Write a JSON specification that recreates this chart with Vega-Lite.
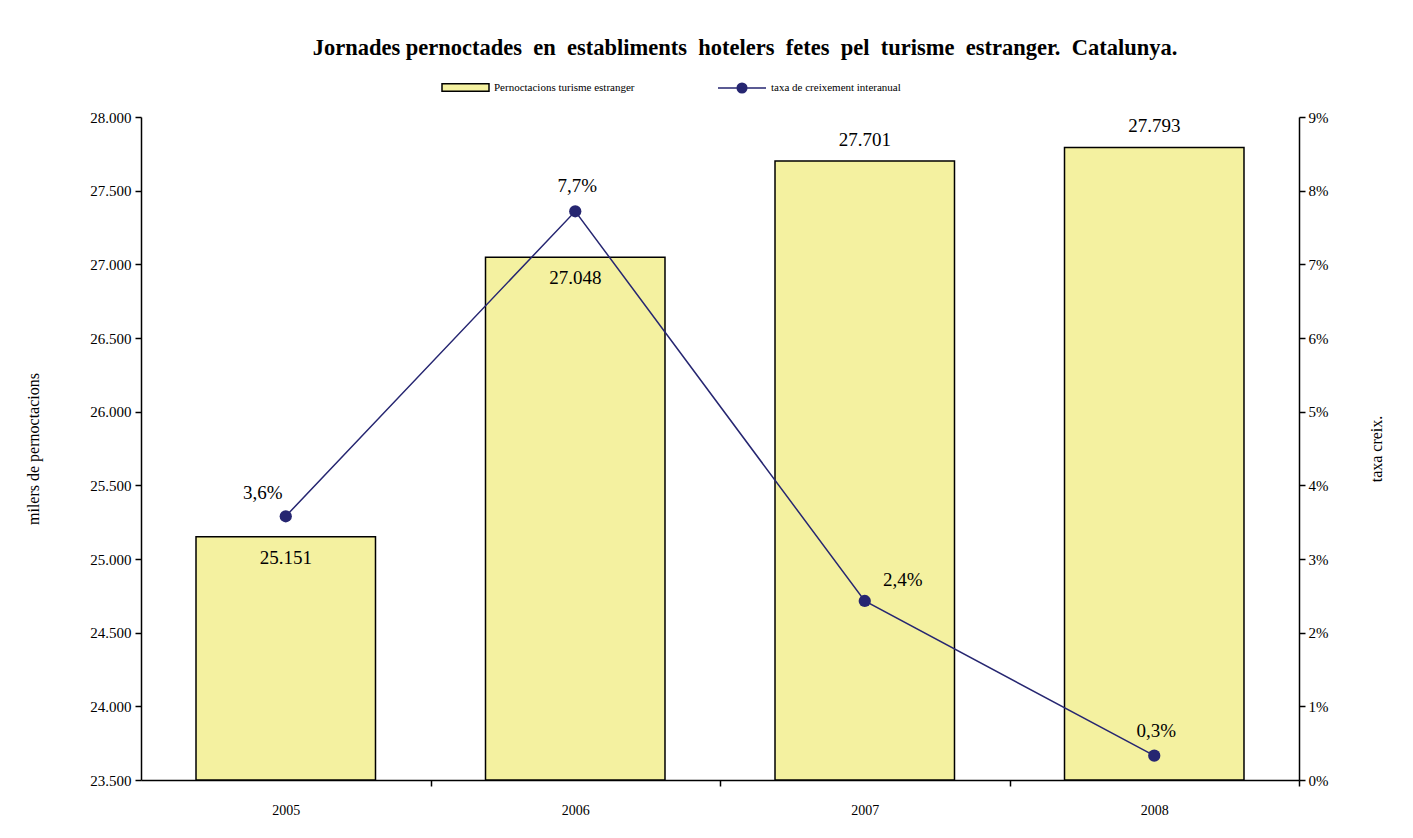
{
  "$schema": "https://vega.github.io/schema/vega-lite/v6.json",
  "width": 1158,
  "height": 663,
  "autosize": {"type": "none"},
  "padding": {"left": 141, "top": 117, "right": 114, "bottom": 58},
  "background": "white",
  "title": {
    "text": "Jornades pernoctades \u00a0en \u00a0establiments \u00a0hotelers \u00a0fetes \u00a0pel \u00a0turisme \u00a0estranger. \u00a0Catalunya.",
    "font": "Liberation Serif",
    "fontSize": 22.5,
    "fontWeight": "bold",
    "color": "black",
    "anchor": "middle",
    "offset": 4,
    "dx": 25
  },
  "data": {
    "values": [
      {"any": "2005", "pernoctacions": 25151, "taxa": 0.0358},
      {"any": "2006", "pernoctacions": 27048, "taxa": 0.0772},
      {"any": "2007", "pernoctacions": 27701, "taxa": 0.0243},
      {"any": "2008", "pernoctacions": 27793, "taxa": 0.0033}
    ]
  },
  "encoding": {
    "x": {
      "field": "any",
      "type": "nominal",
      "scale": {"paddingInner": 0.38, "paddingOuter": 0.19},
      "axis": {
        "title": null,
        "labelAngle": 0,
        "labelFontSize": 14,
        "labelPadding": 17,
        "tickBand": "center",
        "tickOffset": 144.75,
        "labelOffset": -144.75,
        "tickSize": 6
      }
    }
  },
  "layer": [
    {
      "encoding": {
        "y": {
          "field": "pernoctacions",
          "type": "quantitative",
          "scale": {"domain": [23500, 28000], "zero": false, "nice": false},
          "axis": {
            "title": "milers de pernoctacions",
            "values": [23500, 24000, 24500, 25000, 25500, 26000, 26500, 27000, 27500, 28000],
            "format": ",d",
            "labelFontSize": 15,
            "tickSize": 6,
            "labelPadding": 4,
            "titleFontSize": 16,
            "titleFontWeight": "normal",
            "titlePadding": 48
          }
        }
      },
      "layer": [
        {
          "mark": {"type": "bar", "stroke": "black", "strokeWidth": 1.5},
          "encoding": {
            "y2": {"datum": 23500},
            "fill": {
              "datum": "Pernoctacions turisme estranger",
              "type": "nominal",
              "scale": {"range": ["#F4F1A0"]},
              "legend": {
                "orient": "none",
                "legendX": 300,
                "legendY": -54,
                "title": null,
                "symbolType": "M-1,-0.16H1V0.16H-1Z",
                "symbolSize": 2209,
                "symbolStrokeColor": "black",
                "symbolStrokeWidth": 1.5,
                "labelFont": "Liberation Serif",
                "labelFontSize": 11,
                "labelColor": "black",
                "labelOffset": 4
              }
            }
          }
        },
        {
          "transform": [{"filter": {"field": "any", "oneOf": ["2005", "2006"]}}],
          "mark": {"type": "text", "dy": 21, "font": "Liberation Serif", "fontSize": 19, "color": "black"},
          "encoding": {"text": {"field": "pernoctacions", "type": "quantitative", "format": ",d"}}
        },
        {
          "transform": [{"filter": {"field": "any", "oneOf": ["2007", "2008"]}}],
          "mark": {"type": "text", "dy": -21, "font": "Liberation Serif", "fontSize": 19, "color": "black"},
          "encoding": {"text": {"field": "pernoctacions", "type": "quantitative", "format": ",d"}}
        }
      ]
    },
    {
      "encoding": {
        "y": {
          "field": "taxa",
          "type": "quantitative",
          "scale": {"domain": [0, 0.09], "nice": false},
          "axis": {
            "orient": "right",
            "title": "taxa creix.",
            "titleAngle": 270,
            "values": [0, 0.01, 0.02, 0.03, 0.04, 0.05, 0.06, 0.07, 0.08, 0.09],
            "format": ".0%",
            "labelFontSize": 15,
            "tickSize": 6,
            "labelPadding": 3,
            "titleFontSize": 16,
            "titleFontWeight": "normal",
            "titlePadding": 57
          }
        }
      },
      "layer": [
        {
          "mark": {"type": "line", "strokeWidth": 1.5},
          "encoding": {
            "stroke": {
              "datum": "taxa de creixement interanual",
              "type": "nominal",
              "scale": {"range": ["#262671"]},
              "legend": {
                "orient": "none",
                "legendX": 576,
                "legendY": -54,
                "title": null,
                "symbolType": "M-1,0H1M-0.2,0A0.2,0.2 0 1,0 0.2,0A0.2,0.2 0 1,0 -0.2,0Z",
                "symbolSize": 2304,
                "symbolFillColor": "#262671",
                "symbolStrokeColor": "#262671",
                "symbolStrokeWidth": 1.5,
                "labelFont": "Liberation Serif",
                "labelFontSize": 11,
                "labelColor": "black",
                "labelOffset": 4
              }
            }
          }
        },
        {
          "mark": {"type": "point", "filled": true, "size": 150, "color": "#262671", "opacity": 1}
        },
        {
          "transform": [{"filter": {"field": "any", "oneOf": ["2006", "2008"]}}],
          "mark": {"type": "text", "dy": -25, "dx": 2, "font": "Liberation Serif", "fontSize": 19, "color": "black"},
          "encoding": {"text": {"field": "taxa", "type": "quantitative", "format": ".1%"}}
        },
        {
          "transform": [{"filter": {"field": "any", "equal": "2005"}}],
          "mark": {"type": "text", "dy": -23, "dx": -23, "font": "Liberation Serif", "fontSize": 19, "color": "black"},
          "encoding": {"text": {"field": "taxa", "type": "quantitative", "format": ".1%"}}
        },
        {
          "transform": [{"filter": {"field": "any", "equal": "2007"}}],
          "mark": {"type": "text", "dy": -21, "dx": 38, "font": "Liberation Serif", "fontSize": 19, "color": "black"},
          "encoding": {"text": {"field": "taxa", "type": "quantitative", "format": ".1%"}}
        }
      ]
    }
  ],
  "resolve": {"scale": {"y": "independent"}},
  "config": {
    "locale": {
      "number": {"decimal": ",", "thousands": ".", "grouping": [3], "currency": ["", " €"]}
    },
    "font": "Liberation Serif",
    "view": {"stroke": null},
    "axis": {
      "grid": false,
      "domainColor": "black",
      "domainWidth": 1.5,
      "tickColor": "black",
      "tickWidth": 1.5,
      "labelColor": "black",
      "titleColor": "black",
      "labelFont": "Liberation Serif",
      "titleFont": "Liberation Serif"
    }
  }
}
